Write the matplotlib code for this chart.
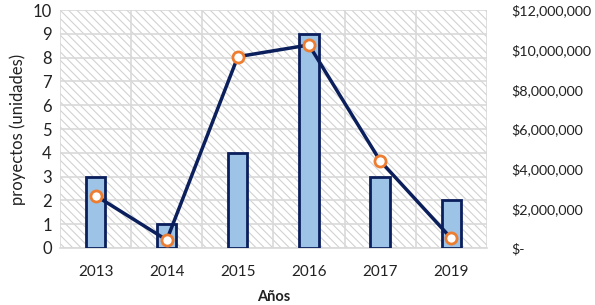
import matplotlib
matplotlib.use("Agg")
import matplotlib.pyplot as plt
import numpy as np
from matplotlib.ticker import FuncFormatter

years = ["2013", "2014", "2015", "2016", "2017", "2019"]
proyectos = [3, 1, 4, 9, 3, 2]
montos = [2640000, 400000, 9650000, 10240000, 4400000, 490000]
left_ticks = list(range(0, 11))
right_ticks = [0, 2000000, 4000000, 6000000, 8000000, 10000000, 12000000]

plt.rcParams['font.family'] = ['Lato', 'DejaVu Sans']
plt.rcParams['hatch.color'] = '#D2D2D2'
plt.rcParams['hatch.linewidth'] = 0.8

fig = plt.figure(figsize=(5.95, 3.05), dpi=100)
ax = fig.add_axes([0.101, 0.187, 0.717, 0.780])
x = np.arange(len(years))

ax.patch.set_facecolor('white')
ax.patch.set_hatch('\\\\\\\\')
ax.patch.set_edgecolor('#D2D2D2')
ax.patch.set_linewidth(0)

ax.bar(x, proyectos, width=0.27, color='#9DC3E6', edgecolor='#0B1F5C', linewidth=2, zorder=3)
ax.set_xlim(-0.5, len(years) - 0.5)
ax.set_ylim(0, 10)
ax.set_yticks(left_ticks)
ax.set_xticks(x)
ax.set_xticklabels(years)
ax.set_xticks(np.arange(-0.5, len(years), 1), minor=True)
ax.grid(True, which='minor', axis='x', color='#D9D9D9', linewidth=1.2)
ax.grid(True, which='major', axis='y', color='#D9D9D9', linewidth=1.2)
ax.grid(False, which='major', axis='x')
ax.set_axisbelow(True)
for s in ['top', 'right', 'left']:
    ax.spines[s].set_visible(False)
ax.spines['bottom'].set_color('#D9D9D9')
ax.spines['bottom'].set_linewidth(1.2)
ax.tick_params(axis='both', which='both', length=0, colors='#222222')
ax.tick_params(axis='x', pad=12, labelsize=11)
ax.tick_params(axis='y', pad=6, labelsize=12)
ax.set_ylabel("proyectos (unidades)", fontsize=12, color='#222222', labelpad=5)
ax.set_xlabel("Años", fontsize=10.5, fontweight='bold', color='#222222', labelpad=8)

ax2 = ax.twinx()
ax2.plot(x, montos, color='#0B1F5C', linewidth=2.5, marker='o', markersize=8,
         markerfacecolor='white', markeredgecolor='#ED7D31', markeredgewidth=2, zorder=5)
ax2.set_ylim(0, 12000000)
ax2.set_yticks(right_ticks)

def fmt(v, pos):
    if v == 0:
        return "$-"
    return "${:,.0f}".format(v)

ax2.yaxis.set_major_formatter(FuncFormatter(fmt))
for s in ['top', 'right', 'left', 'bottom']:
    ax2.spines[s].set_visible(False)
ax2.tick_params(axis='y', length=0, labelsize=10.3, colors='#222222', pad=18)

fig.savefig("out.png", dpi=100)
